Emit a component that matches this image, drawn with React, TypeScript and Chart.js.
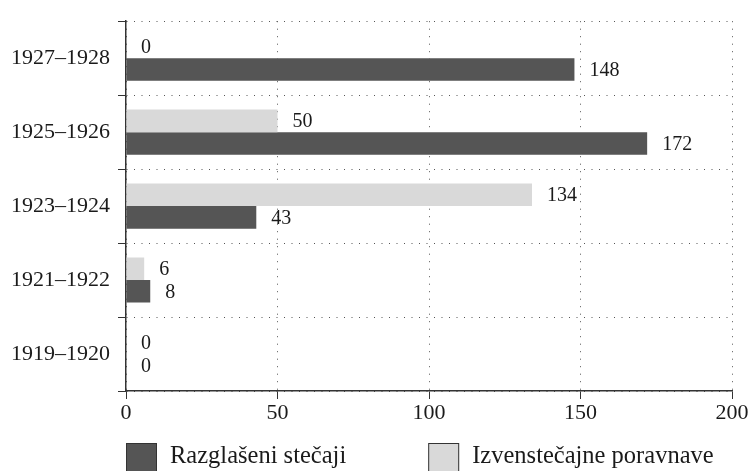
import React, { useEffect, useRef } from "react";
import { Chart, registerables } from "chart.js";

Chart.register(...registerables);

const categories = ["1927–1928", "1925–1926", "1923–1924", "1921–1922", "1919–1920"];
const razglaseniStecaji = [148, 172, 43, 8, 0];
const izvenstecajnePoravnave = [0, 50, 134, 6, 0];
const xTicks = [0, 50, 100, 150, 200];

const FONT = "'Liberation Serif', 'Times New Roman', serif";
const DARK = "#555555";
const LIGHT = "#d9d9d9";

const valueLabels = {
  id: "valueLabels",
  afterDatasetsDraw(chart: any) {
    const ctx = chart.ctx;
    ctx.save();
    ctx.font = `20px ${FONT}`;
    ctx.fillStyle = "#1a1a1a";
    ctx.textAlign = "left";
    ctx.textBaseline = "middle";
    chart.data.datasets.forEach((ds: any, di: number) => {
      const meta = chart.getDatasetMeta(di);
      meta.data.forEach((bar: any, i: number) => {
        ctx.fillText(String(ds.data[i]), bar.x + 15, bar.y + 1);
      });
    });
    ctx.restore();
  },
};

const customLegend = {
  id: "customLegend",
  afterDraw(chart: any) {
    const ctx = chart.ctx;
    const area = chart.chartArea;
    const items = [
      { label: "Razglašeni stečaji", color: DARK },
      { label: "Izvenstečajne poravnave", color: LIGHT },
    ];
    ctx.save();
    ctx.font = `24.5px ${FONT}`;
    ctx.textBaseline = "alphabetic";
    ctx.textAlign = "left";
    let x = area.left;
    const top = area.bottom + 52;
    const box = 31;
    items.forEach((it) => {
      ctx.fillStyle = it.color;
      ctx.fillRect(x, top, box, box);
      ctx.strokeStyle = "#333333";
      ctx.lineWidth = 1;
      ctx.strokeRect(x + 0.5, top + 0.5, box - 1, box - 1);
      ctx.fillStyle = "#1a1a1a";
      const tx = x + box + 13;
      ctx.fillText(it.label, tx, top + 20);
      x = tx + ctx.measureText(it.label).width + 82;
    });
    ctx.restore();
  },
};

export default function App() {
  const ref = useRef<HTMLCanvasElement | null>(null);

  useEffect(() => {
    document.body.style.margin = "0";
    if (!ref.current) return;
    const chart = new Chart(ref.current, {
      type: "bar",
      data: {
        labels: categories,
        datasets: [
          {
            label: "Izvenstečajne poravnave",
            data: izvenstecajnePoravnave,
            backgroundColor: LIGHT,
            borderWidth: 0,
            categoryPercentage: 0.61,
            barPercentage: 1,
          },
          {
            label: "Razglašeni stečaji",
            data: razglaseniStecaji,
            backgroundColor: DARK,
            borderWidth: 0,
            categoryPercentage: 0.61,
            barPercentage: 1,
          },
        ],
      },
      options: {
        indexAxis: "y",
        animation: false,
        responsive: false,
        devicePixelRatio: 1,
        layout: { padding: { top: 14, right: 20, bottom: 40, left: 0 } },
        plugins: {
          legend: { display: false },
          tooltip: { enabled: false },
        },
        scales: {
          x: {
            min: 0,
            max: 200,
            afterFit(scale: any) {
              scale.height = 40;
            },
            afterBuildTicks(scale: any) {
              scale.ticks = xTicks.map((v) => ({ value: v }));
            },
            ticks: {
              font: { family: FONT, size: 22 },
              color: "#1a1a1a",
              padding: 1,
            },
            grid: {
              color: "#555555",
              tickColor: "#333333",
              tickLength: 8,
              lineWidth: 1,
            },
            border: {
              color: "#333333",
              width: 1.5,
              dash: [1, 6.5],
            },
          },
          y: {
            afterFit(scale: any) {
              scale.width = 126;
            },
            ticks: {
              font: { family: FONT, size: 22 },
              color: "#1a1a1a",
              padding: 8,
            },
            grid: {
              offset: true,
              color: "#555555",
              tickColor: "#333333",
              tickLength: 8,
              lineWidth: 1,
            },
            border: {
              color: "#333333",
              width: 1.5,
              dash: [1, 6.5],
            },
          },
        },
      },
      plugins: [valueLabels, customLegend],
    });
    return () => chart.destroy();
  }, []);

  return (
    <div style={{ width: 752, height: 471 }}>
      <canvas ref={ref} width={752} height={471} />
    </div>
  );
}
